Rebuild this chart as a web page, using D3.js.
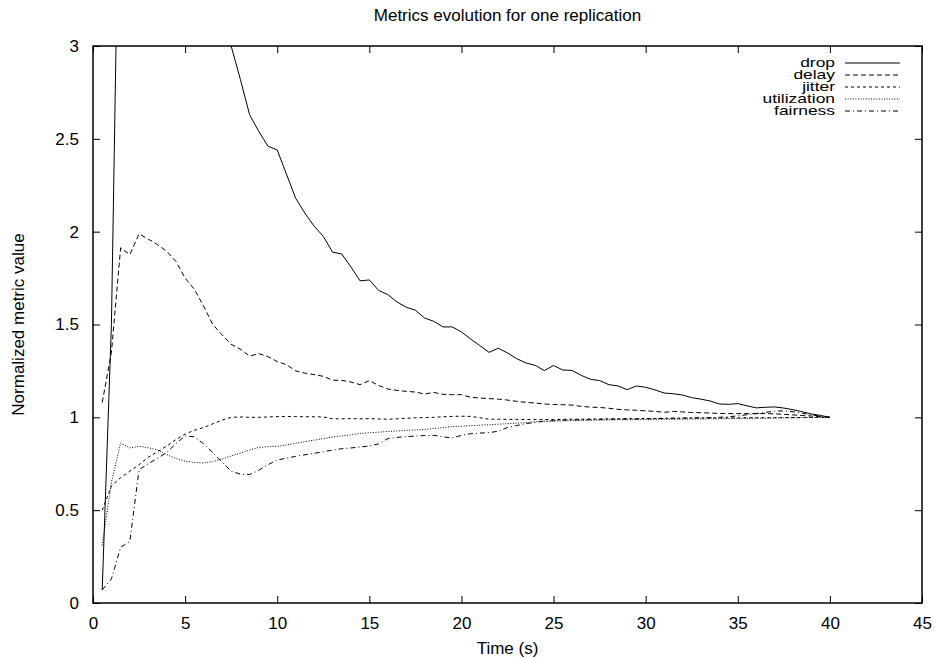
<!DOCTYPE html>
<html>
<head>
<meta charset="utf-8">
<script src="https://cdn.jsdelivr.net/npm/d3@7/dist/d3.min.js"></script>
<style>
  html, body { margin: 0; padding: 0; background: #fff; }
  svg text { font-family: 'Liberation Sans', Arial, sans-serif; fill: #000; }
</style>
</head>
<body>
<div id="chart"></div>
<script>
const chartTitle = 'Metrics evolution for one replication';
const xTitle = 'Time (s)';
const yTitle = 'Normalized metric value';

const xTicks = [0, 5, 10, 15, 20, 25, 30, 35, 40, 45];
const yTicks = [0, 0.5, 1, 1.5, 2, 2.5, 3];

// sample times, one every half second
const time = [
  0.5, 1, 1.5, 2, 2.5, 3, 3.5, 4, 4.5, 5, 5.5, 6, 6.5, 7, 7.5, 8, 8.5, 9, 9.5, 10,
  10.5, 11, 11.5, 12, 12.5, 13, 13.5, 14, 14.5, 15, 15.5, 16, 16.5, 17, 17.5, 18, 18.5, 19, 19.5, 20,
  20.5, 21, 21.5, 22, 22.5, 23, 23.5, 24, 24.5, 25, 25.5, 26, 26.5, 27, 27.5, 28, 28.5, 29, 29.5, 30,
  30.5, 31, 31.5, 32, 32.5, 33, 33.5, 34, 34.5, 35, 35.5, 36, 36.5, 37, 37.5, 38, 38.5, 39, 39.5, 40,
];

const drop = [
  0.07, 1.5, 4.5, 7.0, 8.0, 8.5, 8.0, 7.5, 7.0, 6.2, 5.6, 5.0, 4.3, 3.6, 3.0, 2.82, 2.63, 2.54, 2.46, 2.44,
  2.31, 2.18, 2.10, 2.03, 1.975, 1.89, 1.88, 1.81, 1.735, 1.74, 1.684, 1.661, 1.622, 1.593, 1.577, 1.535, 1.517, 1.487, 1.487, 1.46,
  1.422, 1.386, 1.35, 1.372, 1.347, 1.316, 1.293, 1.28, 1.252, 1.279, 1.255, 1.253, 1.226, 1.205, 1.198, 1.176, 1.169, 1.149, 1.169, 1.162,
  1.148, 1.131, 1.127, 1.12, 1.106, 1.098, 1.088, 1.072, 1.07, 1.074, 1.062, 1.051, 1.054, 1.056, 1.05, 1.041, 1.03, 1.018, 1.01, 1.0,
];

const delay = [
  1.08, 1.35, 1.913, 1.877, 1.988, 1.96, 1.93, 1.895, 1.84, 1.75, 1.69, 1.60, 1.50, 1.445, 1.393, 1.367, 1.33, 1.343, 1.327, 1.30,
  1.284, 1.25, 1.238, 1.23, 1.221, 1.20, 1.199, 1.19, 1.176, 1.198, 1.172, 1.153, 1.145, 1.14, 1.136, 1.126, 1.134, 1.124, 1.122, 1.122,
  1.108, 1.104, 1.101, 1.098, 1.093, 1.086, 1.081, 1.077, 1.072, 1.069, 1.068, 1.066, 1.059, 1.055, 1.053, 1.049, 1.043, 1.04, 1.038, 1.035,
  1.032, 1.027, 1.032, 1.029, 1.026, 1.025, 1.023, 1.021, 1.02, 1.02, 1.02, 1.02, 1.02, 1.019, 1.016, 1.013, 1.01, 1.007, 1.004, 1.0,
];

const jitter = [
  0.50, 0.63, 0.675, 0.71, 0.745, 0.785, 0.815, 0.845, 0.88, 0.91, 0.93, 0.945, 0.965, 0.985, 1.0, 1.002, 1.0, 1.0, 1.002, 1.004,
  1.005, 1.004, 1.003, 1.003, 1.002, 0.992, 0.992, 0.993, 0.992, 0.993, 0.991, 0.99, 0.992, 0.995, 0.997, 0.999, 1.0, 1.003, 1.005, 1.006,
  1.005, 0.998, 0.99, 0.99, 0.989, 0.989, 0.988, 0.988, 0.988, 0.988, 0.989, 0.99, 0.99, 0.991, 0.991, 0.992, 0.992, 0.993, 0.993, 0.994,
  0.994, 0.995, 0.995, 0.995, 0.996, 0.996, 0.996, 0.997, 0.997, 0.997, 0.998, 0.998, 0.998, 0.998, 0.999, 0.999, 0.999, 1.0, 1.0, 1.0,
];

const utilization = [
  0.31, 0.65, 0.862, 0.835, 0.844, 0.836, 0.825, 0.80, 0.778, 0.764, 0.757, 0.754, 0.762, 0.775, 0.792, 0.808, 0.824, 0.838, 0.842, 0.844,
  0.851, 0.86, 0.869, 0.877, 0.885, 0.894, 0.90, 0.906, 0.913, 0.917, 0.92, 0.924, 0.926, 0.93, 0.932, 0.935, 0.94, 0.945, 0.95, 0.952,
  0.955, 0.958, 0.96, 0.963, 0.966, 0.969, 0.972, 0.976, 0.979, 0.98, 0.981, 0.982, 0.983, 0.984, 0.985, 0.986, 0.987, 0.987, 0.988, 0.988,
  0.989, 0.989, 0.99, 0.99, 0.991, 0.991, 0.992, 0.992, 0.993, 0.993, 0.994, 0.995, 0.995, 0.996, 0.997, 0.997, 0.998, 0.999, 0.999, 1.0,
];

const fairness = [
  0.07, 0.13, 0.30, 0.332, 0.718, 0.75, 0.78, 0.81, 0.858, 0.90, 0.895, 0.858, 0.81, 0.76, 0.71, 0.694, 0.692, 0.715, 0.745, 0.77,
  0.78, 0.79, 0.798, 0.806, 0.815, 0.823, 0.831, 0.835, 0.84, 0.846, 0.857, 0.885, 0.892, 0.896, 0.899, 0.902, 0.903, 0.895, 0.889, 0.903,
  0.912, 0.915, 0.918, 0.925, 0.945, 0.956, 0.966, 0.973, 0.979, 0.982, 0.985, 0.986, 0.987, 0.988, 0.989, 0.99, 0.99, 0.991, 0.991, 0.992,
  0.993, 0.994, 0.995, 0.996, 0.997, 0.998, 0.999, 1.0, 1.003, 1.008, 1.014, 1.02, 1.027, 1.033, 1.035, 1.03, 1.022, 1.013, 1.006, 1.0,
];

const seriesNames = ['drop', 'delay', 'jitter', 'utilization', 'fairness'];
const seriesValues = [drop, delay, jitter, utilization, fairness];
const dashes = [null, '5,3', '3,3', '1,1.6', '5,3,1,3'];

const width = 936;
const height = 657;
const margin = {
  top: 46,
  right: 14,
  bottom: 54,
  left: 93,
};
const innerW = width - margin.left - margin.right;
const innerH = height - margin.top - margin.bottom;
const fontSize = 17;
const keyFont = 12;
const keyRow = 12;

const svg = d3.select('#chart')
  .append('svg')
  .attr('width', width)
  .attr('height', height);

const g = svg.append('g').attr('transform', `translate(${margin.left},${margin.top})`);

const x = d3.scaleLinear().domain([0, 45]).range([0, innerW]);
const y = d3.scaleLinear().domain([0, 3]).range([innerH, 0]);

svg.append('defs').append('clipPath')
  .attr('id', 'plotClip')
  .append('rect')
  .attr('width', innerW)
  .attr('height', innerH);

// ticks point inward on all four sides, labels only left and bottom
const styleAxis = (sel) => {
  sel.select('.domain').remove();
  sel.selectAll('line').attr('stroke', '#000').attr('stroke-width', 1);
  sel.selectAll('text').style('font-size', `${fontSize}px`).style('font-family', null);
};

g.append('g')
  .attr('transform', `translate(0,${innerH})`)
  .call(d3.axisBottom(x).tickValues(xTicks).tickSizeInner(-7).tickSizeOuter(0).tickPadding(14).tickFormat(d3.format('~g')))
  .call(styleAxis);

g.append('g')
  .call(d3.axisTop(x).tickValues(xTicks).tickSizeInner(-7).tickSizeOuter(0).tickFormat(''))
  .call(styleAxis);

g.append('g')
  .call(d3.axisLeft(y).tickValues(yTicks).tickSizeInner(-7).tickSizeOuter(0).tickPadding(14).tickFormat(d3.format('~g')))
  .call(styleAxis);

g.append('g')
  .attr('transform', `translate(${innerW},0)`)
  .call(d3.axisRight(y).tickValues(yTicks).tickSizeInner(-7).tickSizeOuter(0).tickFormat(''))
  .call(styleAxis);

const line = d3.line()
  .x((d, i) => x(time[i]))
  .y(d => y(d));

const plot = g.append('g').attr('clip-path', 'url(#plotClip)');

seriesValues.forEach((values, i) => {
  plot.append('path')
    .datum(values)
    .attr('fill', 'none')
    .attr('stroke', '#000')
    .attr('stroke-width', 1)
    .attr('stroke-dasharray', dashes[i])
    .attr('d', line);
});

g.append('rect')
  .attr('width', innerW)
  .attr('height', innerH)
  .attr('fill', 'none')
  .attr('stroke', '#000')
  .attr('stroke-width', 1.5);

// key, top right inside the plot; the text is a little wide and flat like the original
const legend = g.append('g').attr('transform', `translate(${innerW - 87},17)`);

seriesNames.forEach((name, i) => {
  const row = legend.append('g').attr('transform', `translate(0,${i * keyRow})`);
  row.append('text')
    .attr('text-anchor', 'end')
    .attr('dy', '0.35em')
    .attr('transform', 'scale(1.45,1)')
    .style('font-size', `${keyFont}px`)
    .text(name);
  row.append('line')
    .attr('x1', 10)
    .attr('x2', 65)
    .attr('stroke', '#000')
    .attr('stroke-width', 1)
    .attr('stroke-dasharray', dashes[i]);
});

svg.append('text')
  .attr('x', margin.left + innerW / 2)
  .attr('y', 21)
  .attr('text-anchor', 'middle')
  .style('font-size', `${fontSize}px`)
  .text(chartTitle);

svg.append('text')
  .attr('x', margin.left + innerW / 2)
  .attr('y', 654)
  .attr('text-anchor', 'middle')
  .style('font-size', `${fontSize}px`)
  .text(xTitle);

svg.append('text')
  .attr('transform', `translate(24,${margin.top + innerH / 2}) rotate(-90)`)
  .attr('text-anchor', 'middle')
  .style('font-size', `${fontSize}px`)
  .text(yTitle);
</script>
</body>
</html>
